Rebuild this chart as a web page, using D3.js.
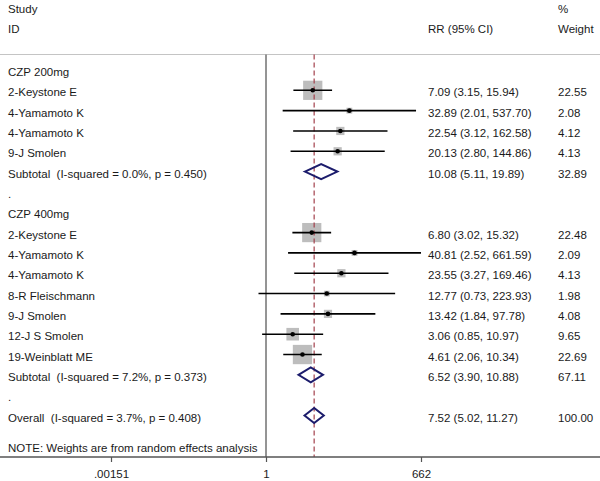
<!DOCTYPE html>
<html>
<head>
<meta charset="utf-8">
<script src="https://cdn.jsdelivr.net/npm/d3@7"></script>
<style>
  html, body { margin: 0; padding: 0; background: #fff; }
  svg { display: block; }
  text { font-family: "Liberation Sans", Arial, sans-serif; font-size: 11.5px; fill: #1a1a1a; white-space: pre; }
</style>
</head>
<body>
<svg id="chart" width="600" height="481"></svg>
<script>
// ---- Data ----
const group200Label = "CZP 200mg";
const group200Studies = ["2-Keystone E", "4-Yamamoto K", "4-Yamamoto K", "9-J Smolen"];
const group200RR = [7.09, 32.89, 22.54, 20.13];
const group200Lo = [3.15, 2.01, 3.12, 2.80];
const group200Hi = [15.94, 537.70, 162.58, 144.86];
const group200Weight = [22.55, 2.08, 4.12, 4.13];
const group200Subtotal = { label: "Subtotal  (I-squared = 0.0%, p = 0.450)", rr: 10.08, lo: 5.11, hi: 19.89, w: 32.89 };

const group400Label = "CZP 400mg";
const group400Studies = ["2-Keystone E", "4-Yamamoto K", "4-Yamamoto K", "8-R Fleischmann", "9-J Smolen", "12-J S Smolen", "19-Weinblatt ME"];
const group400RR = [6.80, 40.81, 23.55, 12.77, 13.42, 3.06, 4.61];
const group400Lo = [3.02, 2.52, 3.27, 0.73, 1.84, 0.85, 2.06];
const group400Hi = [15.32, 661.59, 169.46, 223.93, 97.78, 10.97, 10.34];
const group400Weight = [22.48, 2.09, 4.13, 1.98, 4.08, 9.65, 22.69];
const group400Subtotal = { label: "Subtotal  (I-squared = 7.2%, p = 0.373)", rr: 6.52, lo: 3.90, hi: 10.88, w: 67.11 };

const overall = { label: "Overall  (I-squared = 3.7%, p = 0.408)", rr: 7.52, lo: 5.02, hi: 11.27, w: 100.00 };
const noteText = "NOTE: Weights are from random effects analysis";

const tickValues = [0.00151, 1, 662];
const tickLabels = [".00151", "1", "662"];

// ---- Build rows ----
const rows = [];
function addGroup(label, studies, rr, lo, hi, w, sub) {
  rows.push({ type: "header", label });
  studies.forEach((s, i) => rows.push({ type: "study", label: s, rr: rr[i], lo: lo[i], hi: hi[i], w: w[i] }));
  rows.push(Object.assign({ type: "summary" }, sub));
  rows.push({ type: "dot", label: "." });
}
addGroup(group200Label, group200Studies, group200RR, group200Lo, group200Hi, group200Weight, group200Subtotal);
addGroup(group400Label, group400Studies, group400RR, group400Lo, group400Hi, group400Weight, group400Subtotal);
rows.push(Object.assign({ type: "summary" }, overall));
rows.forEach((r, i) => r.i = i);

const fmt = d3.format(".2f");

// ---- Scales ----
const W = 600, H = 481;
const svg = d3.select("#chart");
const x = d3.scaleLog().domain([0.00151, 662]).range([111, 421]);
const y = d3.scaleLinear().domain([0, rows.length - 1]).range([70, 415.5]);
const axisY = 457;
const topY = 54.5;
const colCI = 428, colW = 558, colLeft = 8;

// header
svg.append("text").attr("x", colLeft).attr("y", 9).attr("dy", "0.35em").text("Study");
svg.append("text").attr("x", colLeft).attr("y", 29).attr("dy", "0.35em").text("ID");
svg.append("text").attr("x", colW).attr("y", 9).attr("dy", "0.35em").text("%");
svg.append("text").attr("x", colCI).attr("y", 29).attr("dy", "0.35em").text("RR (95% CI)");
svg.append("text").attr("x", colW).attr("y", 29).attr("dy", "0.35em").text("Weight");

svg.append("line").attr("x1", 0).attr("x2", W).attr("y1", topY).attr("y2", topY)
  .attr("stroke", "#c4c4c4").attr("stroke-width", 1.2);

// null line
svg.append("line").attr("x1", x(1)).attr("x2", x(1)).attr("y1", topY).attr("y2", axisY)
  .attr("stroke", "#7a7a7a").attr("stroke-width", 1.6);

// boxes
const studies = rows.filter(r => r.type === "study");
svg.selectAll("rect.box").data(studies).join("rect").attr("class", "box")
  .attr("x", d => x(d.rr) - 4.05 * Math.sqrt(d.w) / 2)
  .attr("y", d => y(d.i) - 4.05 * Math.sqrt(d.w) / 2)
  .attr("width", d => 4.05 * Math.sqrt(d.w))
  .attr("height", d => 4.05 * Math.sqrt(d.w))
  .attr("fill", "#bdbdbd");

// overall dashed line
svg.append("line").attr("x1", x(overall.rr)).attr("x2", x(overall.rr)).attr("y1", topY).attr("y2", axisY)
  .attr("stroke", "#a3404c").attr("stroke-width", 1.2).attr("stroke-dasharray", "5,3");

// CI lines
svg.selectAll("line.ci").data(studies).join("line").attr("class", "ci")
  .attr("x1", d => x(d.lo)).attr("x2", d => x(d.hi))
  .attr("y1", d => y(d.i)).attr("y2", d => y(d.i))
  .attr("stroke", "#000").attr("stroke-width", 1.6);

svg.selectAll("circle.pt").data(studies).join("circle").attr("class", "pt")
  .attr("cx", d => x(d.rr)).attr("cy", d => y(d.i)).attr("r", 2.3).attr("fill", "#000");

// diamonds
const sums = rows.filter(r => r.type === "summary");
svg.selectAll("path.dia").data(sums).join("path").attr("class", "dia")
  .attr("d", d => {
    const cy = y(d.i), h = 7.5;
    return `M${x(d.lo)},${cy}L${x(d.rr)},${cy - h}L${x(d.hi)},${cy}L${x(d.rr)},${cy + h}Z`;
  })
  .attr("fill", "none").attr("stroke", "#1c1c6c").attr("stroke-width", 2);

// labels
svg.selectAll("text.lab").data(rows).join("text").attr("class", "lab")
  .attr("x", colLeft).attr("y", d => y(d.i) + 2).attr("dy", "0.35em")
  .text(d => d.label);

const valued = rows.filter(r => r.type === "study" || r.type === "summary");
svg.selectAll("text.ci").data(valued).join("text").attr("class", "ci")
  .attr("x", colCI).attr("y", d => y(d.i) + 2).attr("dy", "0.35em")
  .text(d => `${fmt(d.rr)} (${fmt(d.lo)}, ${fmt(d.hi)})`);
svg.selectAll("text.wt").data(valued).join("text").attr("class", "wt")
  .attr("x", colW).attr("y", d => y(d.i) + 2).attr("dy", "0.35em")
  .text(d => fmt(d.w));

svg.append("text").attr("x", colLeft).attr("y", 447.5).attr("dy", "0.35em").text(noteText);

// axis
svg.append("line").attr("x1", 0).attr("x2", W).attr("y1", axisY).attr("y2", axisY)
  .attr("stroke", "#555").attr("stroke-width", 1.4);
const axis = d3.axisBottom(x).tickValues(tickValues).tickSize(5).tickPadding(8)
  .tickFormat((d, i) => tickLabels[i]);
const gAxis = svg.append("g").attr("transform", `translate(0,${axisY})`).call(axis);
gAxis.select(".domain").remove();
gAxis.selectAll(".tick line").attr("stroke", "#555").attr("stroke-width", 1.2);
gAxis.selectAll(".tick text").style("font-family", "'Liberation Sans', Arial, sans-serif").style("font-size", "11.5px").attr("fill", "#1a1a1a");
</script>
</body>
</html>
